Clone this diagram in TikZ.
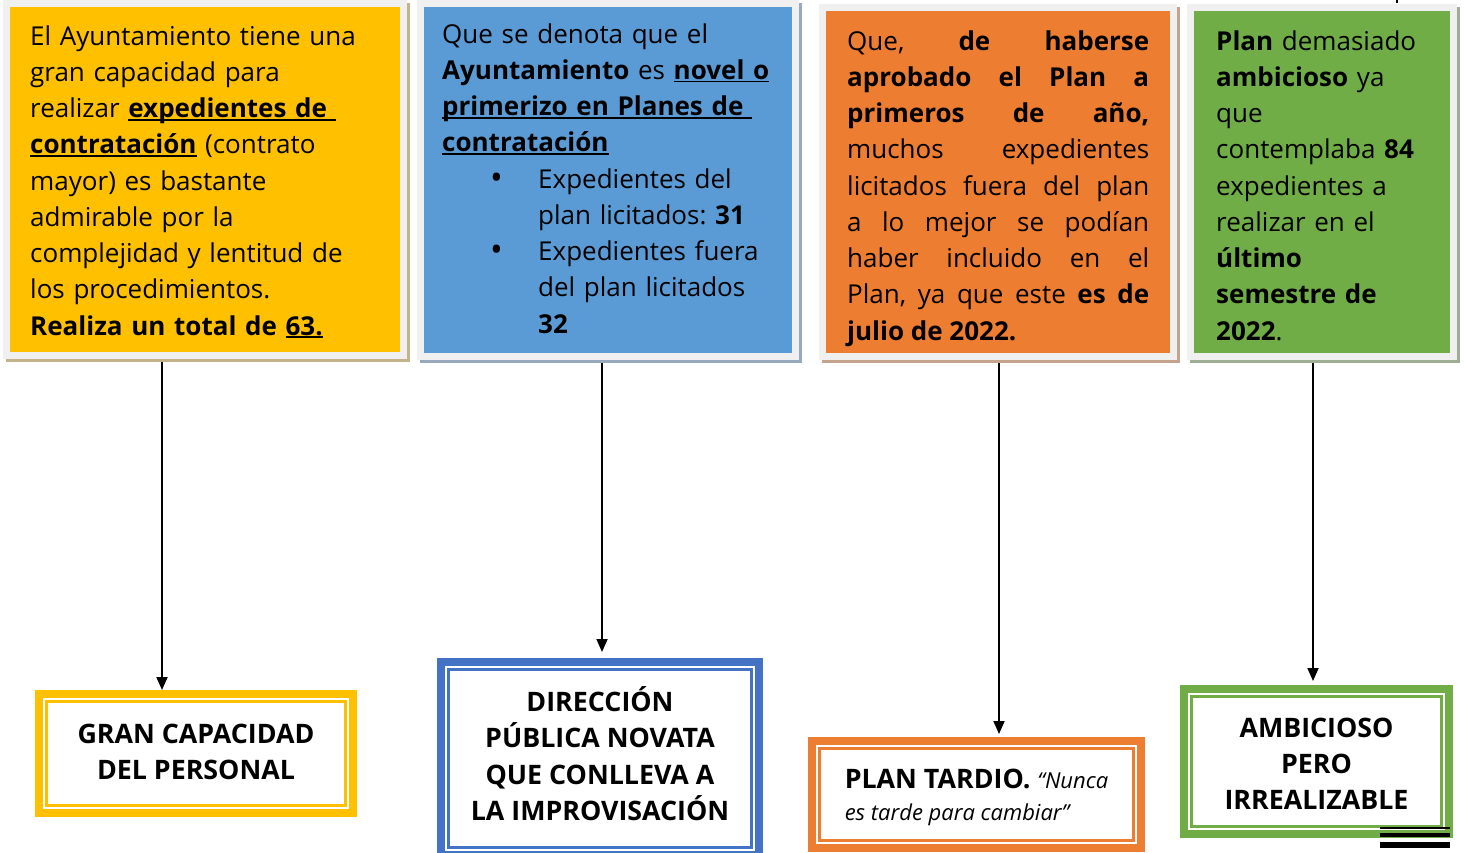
\documentclass[tikz,border=0pt]{standalone}
\usepackage{fontspec}
\setmainfont{Open Sans}
\usetikzlibrary{arrows.meta}

\definecolor{amarillo}{HTML}{FFC000}
\definecolor{azul}{HTML}{5B9BD5}
\definecolor{azulosc}{HTML}{4472C4}
\definecolor{naranja}{HTML}{ED7D31}
\definecolor{verde}{HTML}{70AD47}
\definecolor{marcogris}{HTML}{F0F0F0}
\definecolor{sombraam}{HTML}{C2B38B}
\definecolor{sombraaz}{HTML}{98A9BD}
\definecolor{sombrana}{HTML}{C4A48C}
\definecolor{sombrave}{HTML}{A0AD95}

\newsavebox{\ulbox}
\newcommand{\ul}[1]{\leavevmode\sbox{\ulbox}{#1}\rlap{\rule[-3.2pt]{\wd\ulbox}{1.8pt}}\usebox{\ulbox}}
\newcommand{\jline}[1]{\hbox to\linewidth{#1}}
\newcommand{\bul}{\raisebox{-1pt}{\scalebox{1.3}{\textbullet}}}
\frenchspacing

\begin{document}
\begin{tikzpicture}[x=1pt,y=-1pt,
    marco/.style 2 args={fill=#1, draw=marcogris, line width=7pt, inner sep=0pt,
        preaction={draw=#2, line width=7pt, transform canvas={shift={(3pt,-3pt)}}}},
    texto/.style={anchor=base west, inner sep=0pt, align=left,
        font=\fontsize{26}{36.25}\selectfont},
    resumen/.style={draw=#1, line width=2.5pt, fill=white, outer sep=11.5pt,
        inner sep=0pt, align=center, font=\fontsize{26.8}{36.25}\selectfont\bfseries,
        preaction={draw=#1, line width=23pt},
        preaction={draw=white, line width=7pt}},
    flecha/.style={line width=1.8pt, shorten <=3pt, -{Triangle[length=13pt,width=11pt]}}]
    \useasboundingbox (0,0) rectangle (1464,852);

    % Upper boxes
    \node[marco={amarillo}{sombraam}, minimum width=397pt, minimum height=352pt,
        anchor=north west] (top1) at (3,0) {};
    \node[marco={azul}{sombraaz}, minimum width=375pt, minimum height=353pt,
        anchor=north west] (top2) at (417,0) {};
    \node[marco={naranja}{sombrana}, minimum width=351pt, minimum height=349pt,
        anchor=north west] (top3) at (819,4) {};
    \node[marco={verde}{sombrave}, minimum width=263pt, minimum height=349pt,
        anchor=north west] (top4) at (1187,4) {};

    % Texts of the upper boxes
    \node[texto, text width=368pt] (t1) at (30,45) {El Ayuntamiento tiene una\\
        gran capacidad para\\
        realizar \ul{\textbf{expedientes de }}\\
        \ul{\textbf{contratación}} (contrato\\
        mayor) es bastante\\
        admirable por la\\
        complejidad y lentitud de\\
        los procedimientos.\\
        \textbf{Realiza un total de \ul{63.}}};
    \node[texto, text width=345pt] (t2) at (442,43) {Que se denota que el\\
        \textbf{Ayuntamiento} es \ul{\textbf{novel o}}\\
        \ul{\textbf{primerizo en Planes de }}\\
        \ul{\textbf{contratación}}\\
        \hspace*{48pt}\makebox[48pt][l]{\bul}Expedientes del\\
        \hspace*{96pt}plan licitados: \textbf{31}\\
        \hspace*{48pt}\makebox[48pt][l]{\bul}Expedientes fuera\\
        \hspace*{96pt}del plan licitados\\
        \hspace*{96pt}\textbf{32}};
    \node[texto, text width=302pt, align=justify] (t3) at (847,50) {%
        \jline{Que, \textbf{de} \textbf{haberse}}
        \jline{\textbf{aprobado el Plan a}}
        \jline{\textbf{primeros de año,}}
        \jline{muchos expedientes}
        \jline{licitados fuera del plan}
        \jline{a lo mejor se podían}
        \jline{haber incluido en el}
        \jline{Plan, ya que este \textbf{es de}}
        \hbox{\textbf{julio de 2022.}}};
    \node[texto, text width=228pt] (t4) at (1216,50) {\textbf{Plan} demasiado\\
        \textbf{ambicioso} ya\\
        que\\
        contemplaba \textbf{84}\\
        expedientes a\\
        realizar en el\\
        \textbf{último}\\
        \textbf{semestre de}\\
        \textbf{2022}.};

    % Lower boxes
    \node[resumen=amarillo, minimum width=299pt, minimum height=104pt,
        anchor=north west] (bot1) at (35,690) {GRAN CAPACIDAD\\DEL PERSONAL\rule[-4pt]{0pt}{4pt}};
    \node[resumen=azulosc, minimum width=303pt, minimum height=178pt,
        anchor=north west] (bot2) at (437,658)
        {DIRECCIÓN\\PÚBLICA NOVATA\\QUE CONLLEVA A\\LA IMPROVISACIÓN\rule[-10pt]{0pt}{10pt}};
    \node[resumen=naranja, minimum width=314pt, minimum height=92pt, align=left,
        font=\fontsize{26.8}{31.5}\selectfont, anchor=north west] (bot3) at (808,737)
        {\rule{0pt}{25pt}\textbf{PLAN TARDIO.} {\fontsize{22}{31.5}\selectfont\itshape “Nunca}\\
        {\fontsize{22}{31.5}\selectfont\itshape es tarde para cambiar”}};
    \node[resumen=verde, minimum width=250pt, minimum height=130pt,
        anchor=north west] (bot4) at (1180,685) {\rule{0pt}{24pt}AMBICIOSO\\PERO\\IRREALIZABLE};

    % Arrow positions
    \coordinate (x1) at (162,0);
    \coordinate (x2) at (602,0);
    \coordinate (x3) at (999,0);
    \coordinate (x4) at (1313,0);

    % Arrows
    \draw[flecha] (top1.south -| x1) -- (bot1.north -| x1);
    \draw[flecha] (top2.south -| x2) -- ([yshift=6pt]bot2.north -| x2);
    \draw[flecha] (top3.south -| x3) -- ([yshift=3pt]bot3.north -| x3);
    \draw[flecha] (top4.south -| x4) -- ([yshift=4pt]bot4.north -| x4);

    % Stray marks
    \fill (1380,827) rectangle (1450,829);
    \fill (1380,833) rectangle (1450,837);
    \fill (1380,842) rectangle (1450,848);
    \fill (1396,0) rectangle (1398,3);
\end{tikzpicture}
\end{document}
